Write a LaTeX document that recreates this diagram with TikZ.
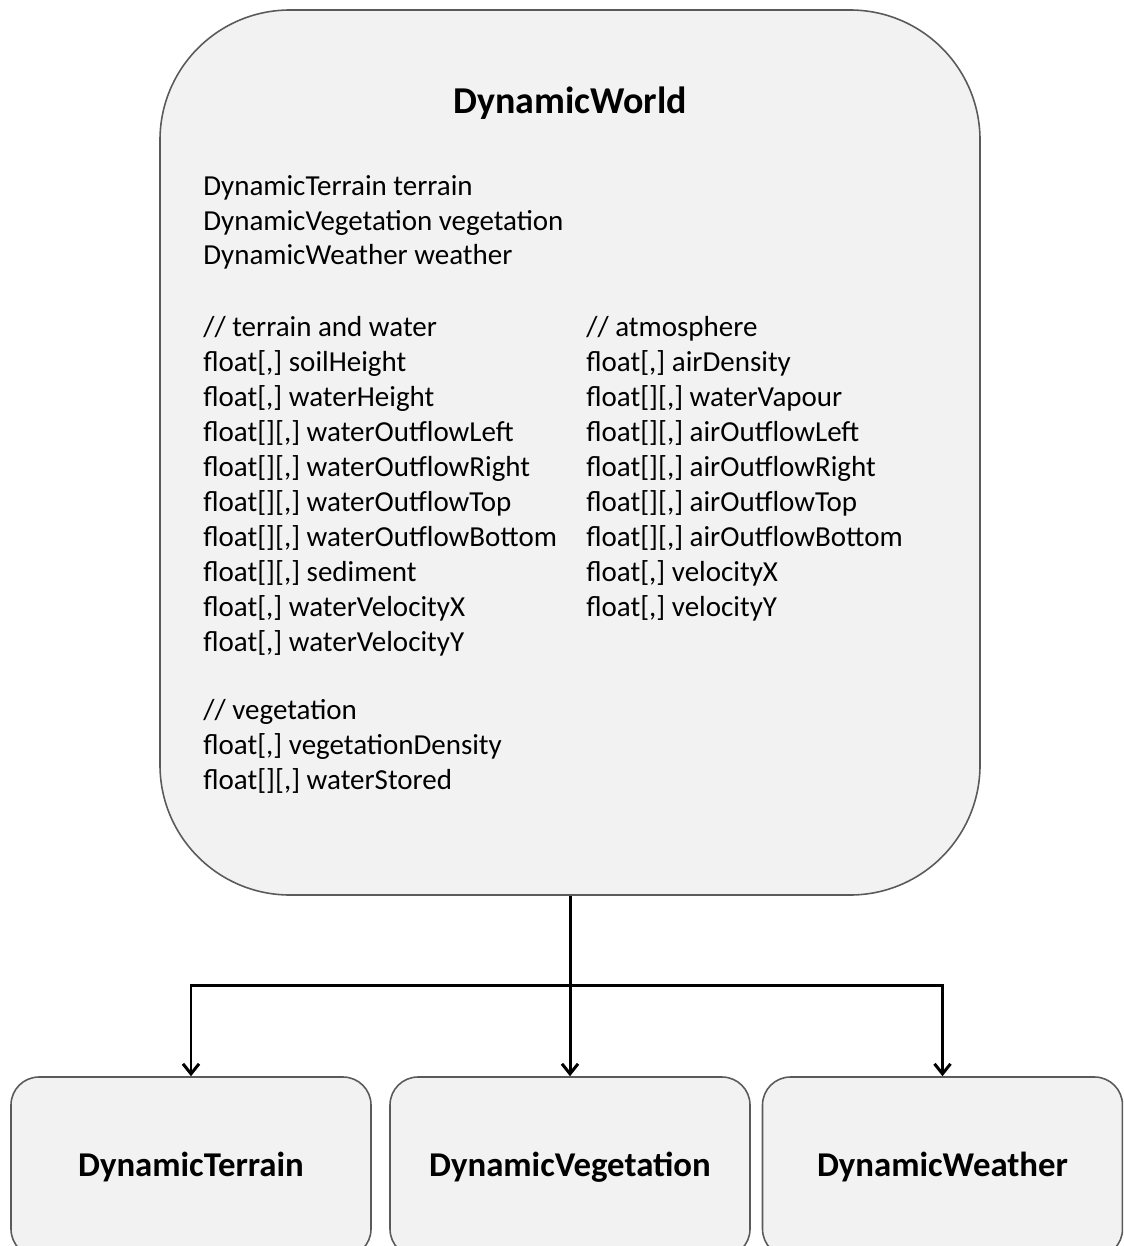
\documentclass[tikz,border=0pt]{standalone}
\usepackage{fontspec}
\setmainfont{Carlito}
\usetikzlibrary{arrows.meta,positioning}
\definecolor{boxfill}{RGB}{242,242,242}
\definecolor{boxline}{RGB}{90,90,90}

\begin{document}
\begin{tikzpicture}[
  bigbox/.style={draw=boxline, fill=boxfill, line width=0.9pt, rounded corners=2.6cm,
    minimum width=16.4cm, minimum height=17.7cm},
  subbox/.style={draw=boxline, fill=boxfill, line width=0.9pt, rounded corners=0.56cm,
    minimum width=7.2cm, minimum height=3.6cm, font=\fontsize{19.8}{23}\selectfont\bfseries},
  vars/.style={anchor=base west, align=left, inner sep=0pt,
    font=\fontsize{16.5}{19.9}\selectfont},
  conn/.style={line width=1.7pt},
  arr/.style={conn, -{Straight Barb[length=2mm,width=3.2mm]}}
]
  \useasboundingbox (0,0) rectangle (22.46,-24.92);

  % DynamicWorld (text blocks placed by their last line)
  \node[bigbox] (world) at (11.4,-9.05) {};
  \node[font=\fontsize{21.6}{26}\selectfont\bfseries] (worldtitle) at (11.4,-2.06) {DynamicWorld};
  \node[vars] (members) at (4.06,-5.30) {DynamicTerrain terrain\\
    DynamicVegetation vegetation\\
    DynamicWeather weather};
  \node[vars] (terrainvars) at (4.06,-13.02) {// terrain and water\\
    float[,] soilHeight\\
    float[,] waterHeight\\
    float[][,] waterOutflowLeft\\
    float[][,] waterOutflowRight\\
    float[][,] waterOutflowTop\\
    float[][,] waterOutflowBottom\\
    float[][,] sediment\\
    float[,] waterVelocityX\\
    float[,] waterVelocityY};
  \node[vars] (vegvars) at (4.06,-15.78) {// vegetation\\
    float[,] vegetationDensity\\
    float[][,] waterStored};
  \node[vars] (atmosvars) at (11.72,-12.32) {// atmosphere\\
    float[,] airDensity\\
    float[][,] waterVapour\\
    float[][,] airOutflowLeft\\
    float[][,] airOutflowRight\\
    float[][,] airOutflowTop\\
    float[][,] airOutflowBottom\\
    float[,] velocityX\\
    float[,] velocityY};

  % subsystems, cut off by the page edge
  \begin{scope}
    \clip (0,0) rectangle (22.46,-24.92);
    \node[subbox] (terrain) at (3.82,-23.34) {DynamicTerrain};
    \node[subbox] (vegetation) at (11.4,-23.34) {DynamicVegetation};
    \node[subbox] (weather) at (18.85,-23.34) {DynamicWeather};
  \end{scope}

  % connectors
  \coordinate (bus) at (11.4,-19.7);
  \draw[conn] (world.south) -- (bus);
  \draw[arr] (world.south) -- (vegetation.north);
  \draw[arr] (bus) -| (terrain.north);
  \draw[arr] (bus) -| (weather.north);
\end{tikzpicture}
\end{document}
